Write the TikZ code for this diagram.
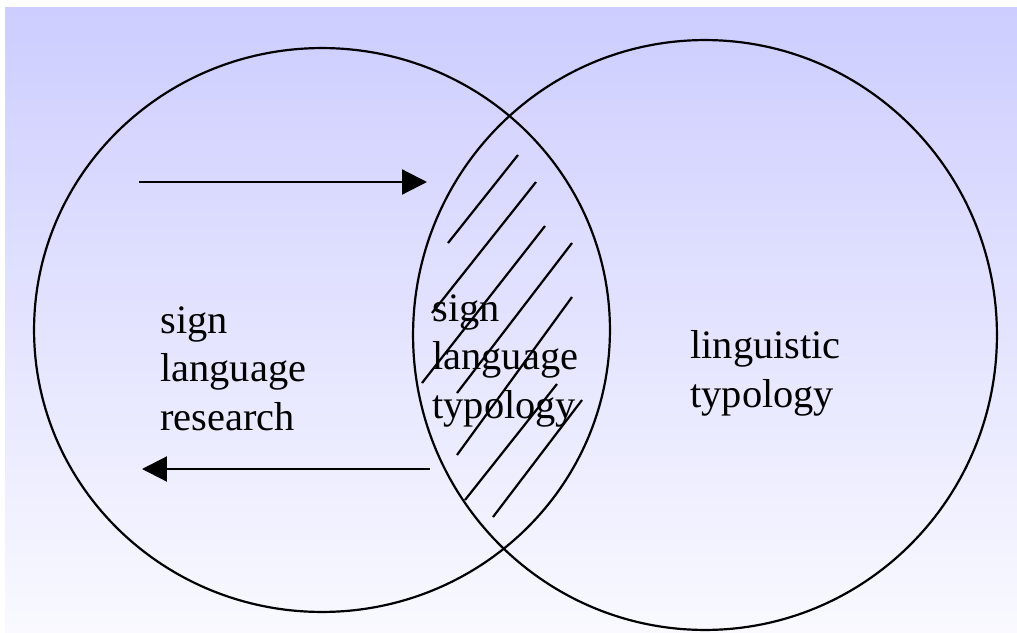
\documentclass[tikz,border=0pt]{standalone}
\usepackage{fontspec}
\setmainfont{Liberation Serif}
\usetikzlibrary{arrows.meta}
\definecolor{bgtop}{RGB}{205,205,255}
\definecolor{bgbottom}{RGB}{249,249,255}
\begin{document}
\begin{tikzpicture}[x=0.02cm, y=-0.02cm,
    set circle/.style={draw, line width=1.25pt},
    hatch line/.style={draw, line width=1.25pt},
    flow arrow/.style={line width=1.25pt, -{Triangle[length=0.5cm, width=0.5cm]}},
    set label/.style={anchor=base west, inner sep=0pt, align=left, font=\fontsize{23}{27.5}\selectfont}]
        \useasboundingbox (0,0) rectangle (1017,632);
        \shade[top color=bgtop, bottom color=bgbottom] (5,7) rectangle (1017,632);

          % the two sets
          \draw[set circle] (322,330) ellipse [x radius=5.76cm, y radius=5.64cm];
          \draw[set circle] (705,335) ellipse [x radius=5.84cm, y radius=5.9cm];

          % hatching of the overlap
          \draw[hatch line] (518,155) -- (448,243);
          \draw[hatch line] (536,182) -- (432,313);
          \draw[hatch line] (545,226) -- (422,383);
          \draw[hatch line] (572,243) -- (457,393);
          \draw[hatch line] (572,297) -- (457,455);
          \draw[hatch line] (557,384) -- (465,500);
          \draw[hatch line] (582,400) -- (493,517);

          % base anchor sits on the last line
          \node[set label] (slr) at (160,430) {sign\\language\\research};
          \node[set label] (slt) at (432,418) {sign\\language\\typology};
          \node[set label] (lt) at (690,407) {linguistic\\typology};

          \coordinate (outA) at (139,182);
          \coordinate (inA) at (427,182);
          \coordinate (outB) at (430,469);
          \coordinate (inB) at (142,469);
          \draw[flow arrow] (outA) -- (inA);
          \draw[flow arrow] (outB) -- (inB);
\end{tikzpicture}
\end{document}
